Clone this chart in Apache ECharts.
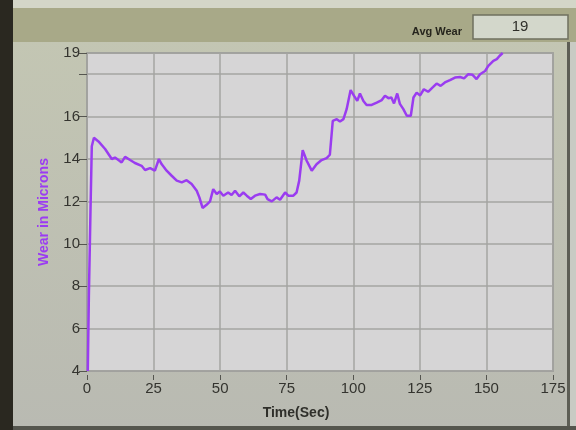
<!DOCTYPE html>
<html>
<head>
<meta charset="utf-8">
<script src="https://cdn.jsdelivr.net/npm/echarts@6/dist/echarts.min.js"></script>
<style>
html,body{margin:0;padding:0;background:#c3c6b0;}
#c{width:576px;height:430px;}
</style>
</head>
<body>
<div id="c"></div>
<script>
// Time (sec)
var timeSec = [0.3, 0.7, 1.3, 1.8, 2.6, 4.3, 6.8, 9.3, 10.5, 11.8, 13.0, 14.3, 16.2, 18.0, 20.5, 21.8, 23.7, 25.5, 27.0, 28.0, 29.9, 31.8, 33.7, 35.6, 37.4, 39.3, 41.2, 42.2, 43.4, 44.9, 46.2, 47.4, 48.7, 49.9, 51.2, 53.0, 54.3, 55.6, 57.2, 58.7, 60.0, 61.5, 63.1, 65.0, 66.9, 67.8, 69.4, 71.2, 72.5, 74.4, 75.6, 77.5, 78.7, 79.7, 81.0, 82.5, 84.4, 86.2, 88.1, 90.0, 91.2, 92.3, 93.8, 95.0, 96.3, 97.5, 99.0, 100.3, 101.5, 102.5, 103.8, 105.0, 106.9, 108.8, 110.7, 111.9, 113.2, 114.3, 115.3, 116.5, 117.5, 118.8, 120.1, 121.6, 122.6, 123.8, 125.1, 126.5, 128.1, 130.0, 131.3, 132.8, 134.4, 136.3, 138.2, 140.1, 141.6, 143.2, 144.8, 146.3, 147.6, 149.5, 150.7, 152.6, 153.9, 154.9, 156.1];
// Wear in microns
var wearMicrons = [4.0, 7.5, 11.5, 14.6, 15.0, 14.83, 14.47, 14.0, 14.07, 13.95, 13.84, 14.1, 13.95, 13.81, 13.68, 13.48, 13.57, 13.45, 14.0, 13.76, 13.45, 13.21, 12.98, 12.9, 13.0, 12.82, 12.5, 12.19, 11.69, 11.84, 12.0, 12.58, 12.35, 12.47, 12.27, 12.42, 12.3, 12.5, 12.24, 12.42, 12.27, 12.11, 12.27, 12.35, 12.32, 12.11, 12.0, 12.19, 12.08, 12.42, 12.27, 12.27, 12.42, 12.98, 14.42, 13.92, 13.45, 13.75, 13.95, 14.04, 14.2, 15.8, 15.88, 15.77, 15.88, 16.35, 17.25, 16.98, 16.74, 17.09, 16.74, 16.55, 16.55, 16.66, 16.78, 16.98, 16.87, 16.9, 16.62, 17.09, 16.6, 16.35, 16.04, 16.04, 16.9, 17.13, 17.0, 17.29, 17.17, 17.4, 17.56, 17.45, 17.61, 17.72, 17.84, 17.87, 17.8, 18.0, 17.97, 17.77, 18.0, 18.15, 18.39, 18.63, 18.71, 18.86, 19.0];
var xTicks = [0, 25, 50, 75, 100, 125, 150, 175];
var yTickLabels = [4, 6, 8, 10, 12, 14, 16, 19];
var avgWear = 19;

var pts = timeSec.map(function (t, i) { return [t, wearMicrons[i]]; });
var chart = echarts.init(document.getElementById('c'), null, {renderer: 'canvas'});
var labelFont = {color: '#34342f', fontFamily: 'Liberation Sans', fontSize: 15};

chart.setOption({
  backgroundColor: new echarts.graphic.LinearGradient(0, 0, 0, 1, [
    {offset: 0, color: '#c4c7b3'}, {offset: 1, color: '#b9bab2'}
  ]),
  animation: false,
  graphic: [
    {type: 'rect', z: -10, shape: {x: 0, y: 0, width: 576, height: 42}, style: {fill: '#a8a988'}},
    {type: 'rect', z: -9, shape: {x: 0, y: 0, width: 576, height: 8}, style: {fill: '#d4d6c8'}},
    {type: 'rect', z: -9, shape: {x: 0, y: 0, width: 13, height: 430}, style: {fill: '#2a2820'}},
    {type: 'rect', z: -9, shape: {x: 570, y: 42, width: 6, height: 388}, style: {fill: '#c9cbc4'}},
    {type: 'rect', z: -9, shape: {x: 567, y: 42, width: 3, height: 388}, style: {fill: '#5d5e55'}},
    {type: 'rect', z: -9, shape: {x: 13, y: 426, width: 563, height: 4}, style: {fill: '#55564e'}},
    {type: 'rect', z: 5, shape: {x: 473, y: 15, width: 95, height: 24}, style: {fill: '#d3d7cb', stroke: '#6f705f', lineWidth: 1.5}},
    {type: 'text', z: 6, x: 520, y: 27, style: {text: String(avgWear), align: 'center', verticalAlign: 'middle', fill: '#2f2f2a', font: '15px "Liberation Sans"'}},
    {type: 'text', z: 6, x: 462, y: 32, style: {text: 'Avg Wear', align: 'right', verticalAlign: 'middle', fill: '#26251d', font: 'bold 11px "Liberation Sans"'}},
    {type: 'text', z: 6, x: 44, y: 212, rotation: Math.PI / 2, style: {text: 'Wear in Microns', align: 'center', verticalAlign: 'middle', fill: '#9b3cf2', font: 'bold 14px "Liberation Sans"'}},
    {type: 'text', z: 6, x: 296, y: 413, style: {text: 'Time(Sec)', align: 'center', verticalAlign: 'middle', fill: '#2f2f2a', font: 'bold 14px "Liberation Sans"'}}
  ],
  grid: {
    left: 87, top: 53, width: 466, height: 318,
    show: true, backgroundColor: '#d6d5d6', borderColor: '#8c8c88', borderWidth: 1.5
  },
  xAxis: {
    type: 'value', min: 0, max: 175, interval: 25, offset: 4,
    axisLine: {show: false},
    axisTick: {show: true, length: 5, lineStyle: {color: '#55554f'}},
    axisLabel: Object.assign({margin: 6, formatter: function (v) { return xTicks.indexOf(v) >= 0 ? String(v) : ''; }}, labelFont),
    splitLine: {show: true, lineStyle: {color: '#a4a4a2', width: 1.5}}
  },
  yAxis: {
    type: 'value', min: 4, max: 19, interval: 2, offset: 3,
    axisLine: {show: false},
    axisTick: {show: true, length: 8, lineStyle: {color: '#55554f'}},
    axisLabel: Object.assign({margin: 4, formatter: function (v) { return yTickLabels.indexOf(v) >= 0 ? String(v) : ''; }}, labelFont),
    splitLine: {show: true, lineStyle: {color: '#a4a4a2', width: 1.5}}
  },
  series: [{
    type: 'line', data: pts, showSymbol: false, clip: true,
    lineStyle: {color: '#9a3cf0', width: 2.5},
    itemStyle: {color: '#9a3cf0'}
  }]
});
</script>
</body>
</html>
